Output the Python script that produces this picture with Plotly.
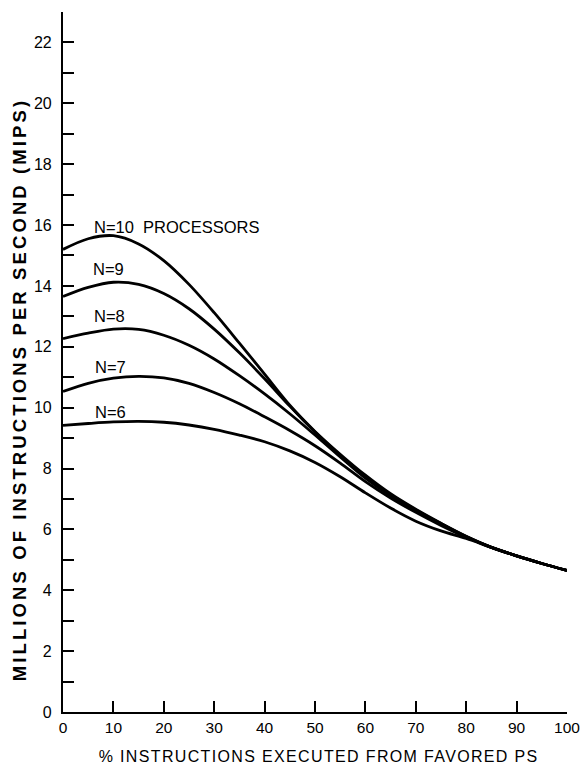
import plotly.graph_objects as go

x_pct = [0, 5, 10, 15, 20, 25, 30, 35, 40, 45, 50, 55, 60, 65, 70, 75, 80, 85, 90, 95, 100]

mips_n10 = [15.2, 15.55, 15.65, 15.38, 14.83, 14.05, 13.12, 12.12, 11.1, 10.08, 9.22, 8.47, 7.78, 7.17, 6.66, 6.2, 5.77, 5.41, 5.13, 4.88, 4.65]
mips_n9 = [13.65, 13.95, 14.12, 14.05, 13.75, 13.25, 12.58, 11.8, 10.95, 10.05, 9.2, 8.43, 7.73, 7.14, 6.64, 6.19, 5.77, 5.41, 5.13, 4.88, 4.65]
mips_n8 = [12.27, 12.45, 12.58, 12.57, 12.38, 12.05, 11.6, 11.05, 10.45, 9.8, 9.1, 8.38, 7.68, 7.1, 6.61, 6.16, 5.76, 5.41, 5.13, 4.88, 4.65]
mips_n7 = [10.53, 10.8, 10.97, 11.03, 10.98, 10.8, 10.5, 10.13, 9.7, 9.25, 8.75, 8.18, 7.57, 7.03, 6.56, 6.13, 5.74, 5.41, 5.13, 4.88, 4.65]
mips_n6 = [9.42, 9.48, 9.53, 9.55, 9.52, 9.43, 9.29, 9.1, 8.88, 8.58, 8.2, 7.73, 7.2, 6.7, 6.27, 5.95, 5.7, 5.41, 5.13, 4.88, 4.65]

series = [mips_n10, mips_n9, mips_n8, mips_n7, mips_n6]
label_text = ["N=10  PROCESSORS", "N=9", "N=8", "N=7", "N=6"]
label_x = [5.8, 5.6, 5.8, 6.0, 6.0]
label_y = [15.95, 14.55, 13.0, 11.35, 9.87]

x_ticks = [0, 10, 20, 30, 40, 50, 60, 70, 80, 90, 100]
y_ticks = [0, 2, 4, 6, 8, 10, 12, 14, 16, 18, 20, 22]

FONT = "Liberation Sans, Arial, sans-serif"

fig = go.Figure()
for vals in series:
    fig.add_trace(go.Scatter(x=x_pct, y=vals, mode="lines",
                             line=dict(color="black", width=2.8, shape="spline", smoothing=0.9),
                             hoverinfo="skip", showlegend=False))

for t, lx, ly in zip(label_text, label_x, label_y):
    fig.add_annotation(x=lx, y=ly, text=t, showarrow=False, xanchor="left", yanchor="middle",
                       font=dict(family=FONT, size=16.5, color="black"))

fig.add_annotation(xref="paper", yref="paper", x=0.506, y=-0.064,
                   text="% INSTRUCTIONS EXECUTED FROM FAVORED PS", showarrow=False,
                   xanchor="center", yanchor="middle",
                   font=dict(family=FONT, size=16, color="black"))
fig.add_annotation(xref="paper", yref="paper", x=-0.087, y=0.46,
                   text="<b>MILLIONS OF INSTRUCTIONS PER SECOND (MIPS)</b>", showarrow=False,
                   textangle=-90, xanchor="center", yanchor="middle",
                   font=dict(family=FONT, size=18.5, color="black"))

fig.update_layout(
    width=585, height=766,
    margin=dict(l=63, r=18, t=12, b=54, autoexpand=False),
    paper_bgcolor="white", plot_bgcolor="white",
    font=dict(family=FONT, color="black"),
    xaxis=dict(range=[0, 100], tickvals=x_ticks, ticktext=[str(v) for v in x_ticks],
               ticks="inside", ticklen=11, tickwidth=1.8, tickcolor="black", automargin=False,
               showline=True, linecolor="black", linewidth=2.2, showgrid=False, zeroline=False,
               tickfont=dict(family=FONT, size=15.5, color="black")),
    yaxis=dict(range=[0, 23], tickvals=y_ticks, ticktext=[str(v) for v in y_ticks],
               ticks="inside", ticklen=11, tickwidth=1.8, tickcolor="black", automargin=False,
               minor=dict(dtick=1, tick0=0, ticks="inside", ticklen=11, tickwidth=1.8, tickcolor="black"),
               showline=True, linecolor="black", linewidth=2.2, showgrid=False, zeroline=False,
               tickfont=dict(family=FONT, size=16, color="black"), ticklabelstandoff=6),
)

post_js = """
document.body.style.margin = '0';
document.body.style.padding = '0';
document.querySelectorAll('g.annotation text').forEach(function(t){
  var s = t.textContent;
  if (s.indexOf('MILLIONS') >= 0) { t.style.letterSpacing = '3.1px'; }
  else if (s.indexOf('INSTRUCTIONS') >= 0) { t.style.letterSpacing = '1.35px'; }
});
"""

fig.write_html("out.html", post_script=post_js, config={"displayModeBar": False})
